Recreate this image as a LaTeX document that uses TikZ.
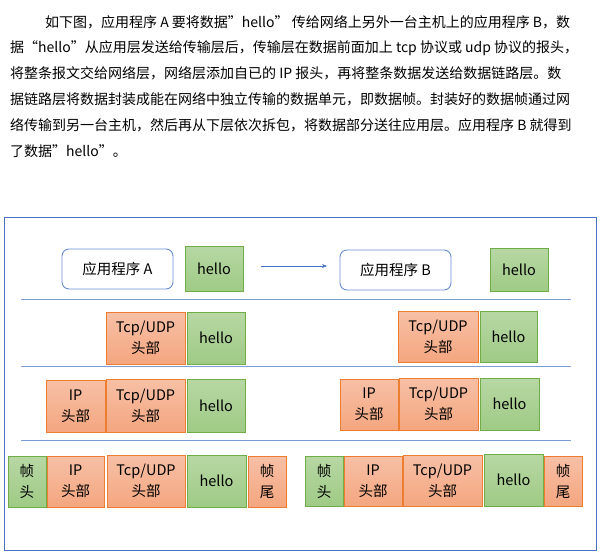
\documentclass[tikz,border=0pt]{standalone}
\usepackage{fontspec}
\setmainfont{Liberation Sans}
\newfontfamily\cjk{Noto Sans CJK SC}
\usetikzlibrary{arrows.meta}
\definecolor{gb}{HTML}{70AD47}\definecolor{gt}{HTML}{B7D7A4}\definecolor{gbt}{HTML}{9FCB85}
\definecolor{ob}{HTML}{ED7D31}\definecolor{ot}{HTML}{F7C0A6}\definecolor{obt}{HTML}{F4A67F}
\definecolor{bl}{HTML}{4472C4}
\tikzset{
 gbox/.style={draw=gb,line width=0.9pt,top color=gt,bottom color=gbt,inner sep=0,font=\cjk\fontsize{14.5}{21}\selectfont,align=center},
 obox/.style={draw=ob,line width=0.9pt,top color=ot,bottom color=obt,inner sep=0,font=\cjk\fontsize{14.5}{21}\selectfont,align=center},
 abox/.style={draw=bl!80,line width=0.9pt,rounded corners=7pt,fill=white,inner sep=0,font=\cjk\fontsize{14.5}{17}\selectfont},
 sep/.style={draw=bl!70,line width=1pt},
 para/.style={anchor=west,inner sep=0,font=\cjk\fontsize{14}{15}\selectfont}
}
\newcommand{\bx}[6]{\node[#1,minimum width={#4-#2},minimum height={#5-#3}] (#6) at ({(#2+#4)/2},{(#3+#5)/2})}
\begin{document}
\begin{tikzpicture}[x=1pt,y=-1pt]
\useasboundingbox (0,0) rectangle (607,559);
\node[para] (l1) at (45,22) {如下图，应用程序 A 要将数据”hello” 传给网络上另外一台主机上的应用程序 B，数};
\node[para] (l2) at (10,48) {据“hello”从应用层发送给传输层后，传输层在数据前面加上 tcp 协议或 udp 协议的报头，};
\node[para] (l3) at (10,73) {将整条报文交给网络层，网络层添加自已的 IP 报头，再将整条数据发送给数据链路层。数};
\node[para] (l4) at (10,99) {据链路层将数据封装成能在网络中独立传输的数据单元，即数据帧。封装好的数据帧通过网};
\node[para] (l5) at (10,125) {络传输到另一台主机，然后再从下层依次拆包，将数据部分送往应用层。应用程序 B 就得到};
\node[para] (l6) at (10,151) {了数据”hello”。};
\draw[bl,line width=1pt] (4,217) rectangle (596,550);
\draw[sep] (21,299) -- (571,299);
\draw[sep] (21,366) -- (571,366);
\draw[sep] (21,440) -- (571,440);
% row 1
\bx{abox}{62}{249}{173}{289}{appA} {应用程序 A};
\bx{gbox}{185}{246}{243}{291}{h1} {hello};
\bx{abox}{340}{250}{451}{290}{appB} {应用程序 B};
\bx{gbox}{490}{248}{548}{291}{h2} {hello};
\coordinate (a1) at (261,266); \coordinate (a2) at (327,266);
\draw[bl,-{Stealth[length=5pt]}] (a1) -- (a2);
% row 2
\bx{obox}{106}{312}{185}{364}{t2l} {Tcp/UDP\\头部};
\bx{gbox}{187}{312}{245}{364}{h2l} {hello};
\bx{obox}{398}{311}{478}{362}{t2r} {Tcp/UDP\\头部};
\bx{gbox}{480}{311}{537}{362}{h2r} {hello};
% row 3
\bx{obox}{46}{380}{105}{432}{i3l} {IP\\头部};
\bx{obox}{106}{379}{185}{432}{t3l} {Tcp/UDP\\头部};
\bx{gbox}{187}{379}{245}{432}{h3l} {hello};
\bx{obox}{340}{379}{398}{430}{i3r} {IP\\头部};
\bx{obox}{399}{378}{478}{430}{t3r} {Tcp/UDP\\头部};
\bx{gbox}{480}{378}{539}{430}{h3r} {hello};
% row 4
\bx{gbox}{8}{456}{46}{507}{f4l} {帧\\头};
\bx{obox}{47}{456}{104}{507}{i4l} {IP\\头部};
\bx{obox}{107}{455}{185}{507}{t4l} {Tcp/UDP\\头部};
\bx{gbox}{187}{455}{246}{507}{h4l} {hello};
\bx{obox}{248}{456}{286}{507}{e4l} {帧\\尾};
\bx{gbox}{305}{456}{343}{506}{f4r} {帧\\头};
\bx{obox}{344}{456}{402}{506}{i4r} {IP\\头部};
\bx{obox}{403}{455}{482}{506}{t4r} {Tcp/UDP\\头部};
\bx{gbox}{484}{454}{543}{506}{h4r} {hello};
\bx{obox}{544}{456}{582}{506}{e4r} {帧\\尾};
\end{tikzpicture}
\end{document}
